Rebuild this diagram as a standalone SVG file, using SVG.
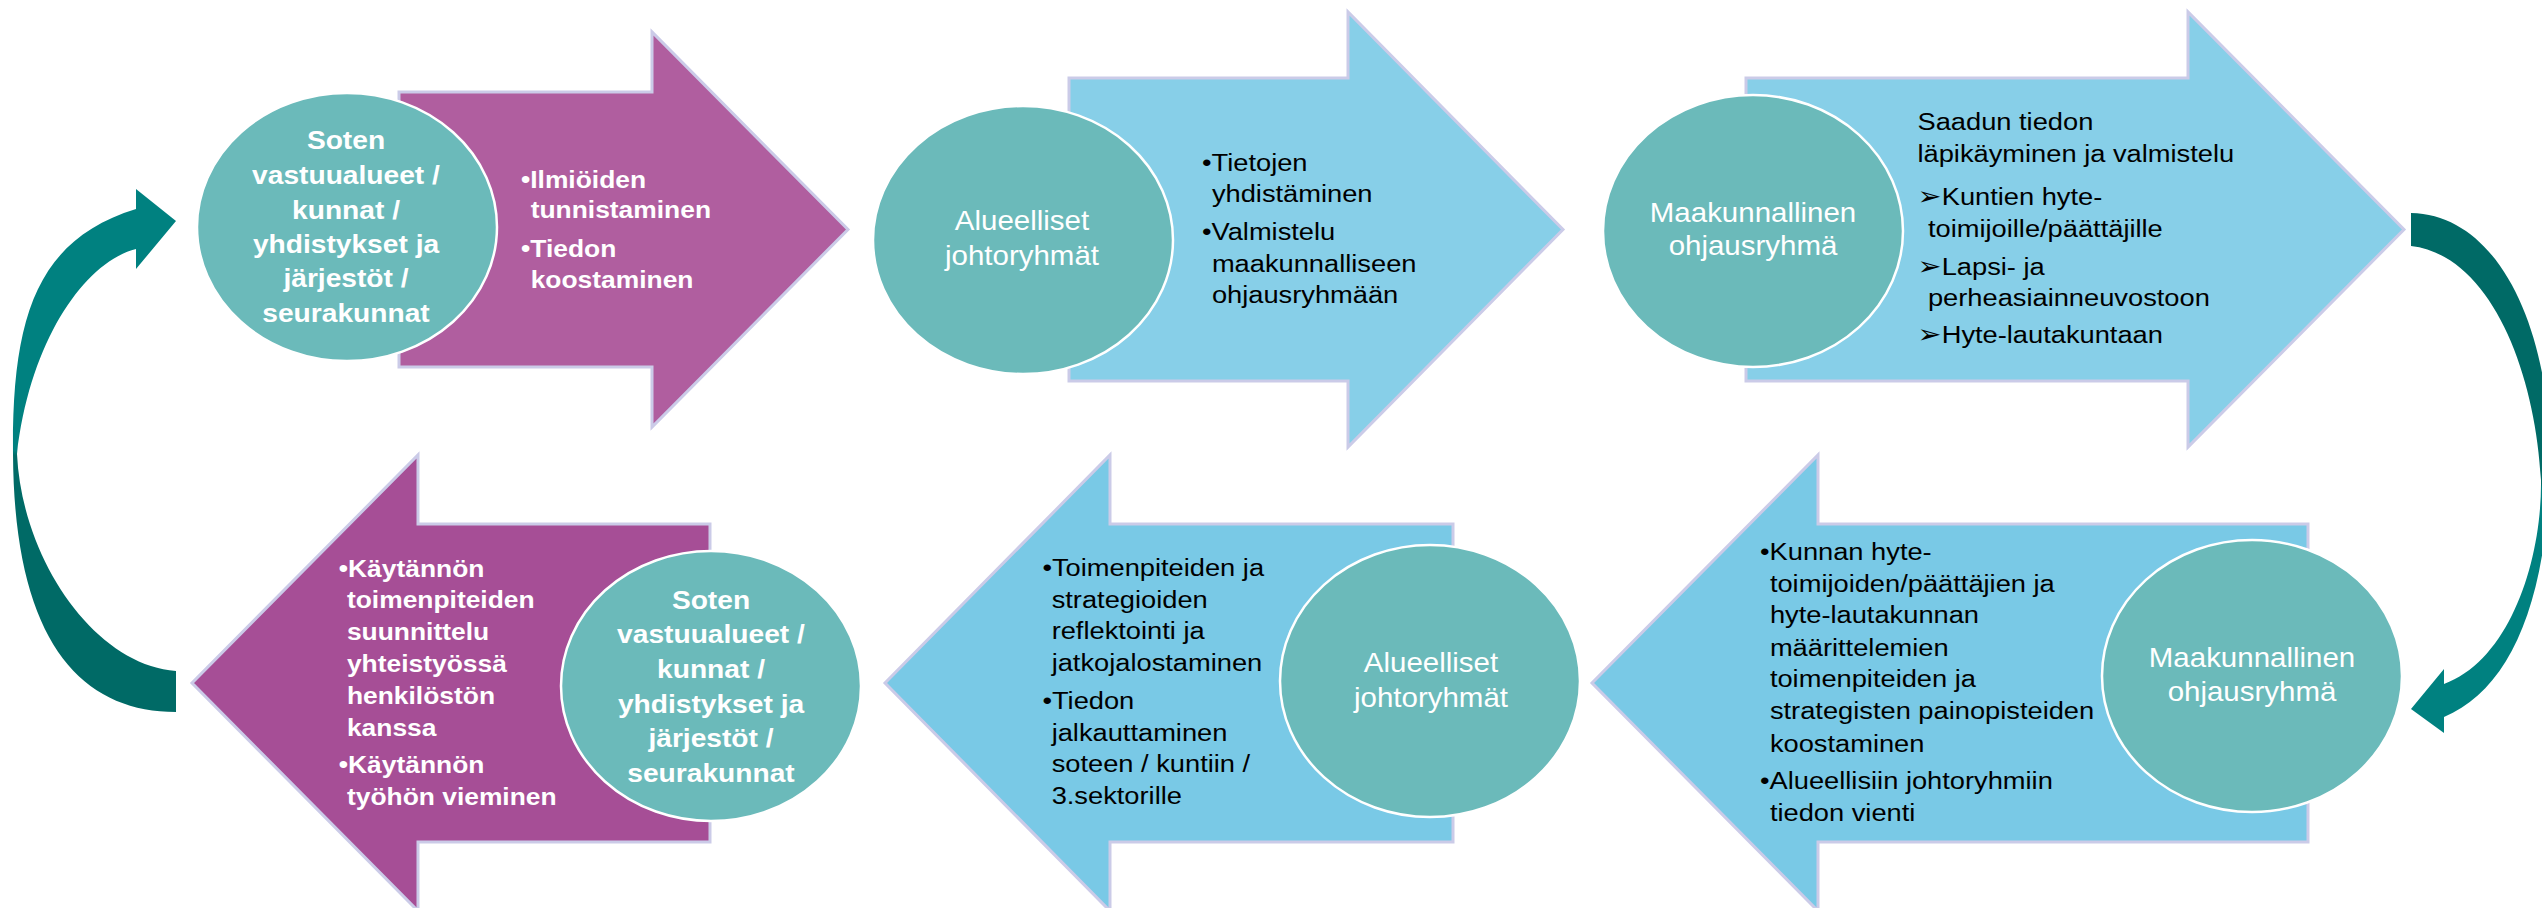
<svg xmlns="http://www.w3.org/2000/svg" width="2542" height="908" viewBox="0 0 2542 908">
<defs>
<style>
.arrP1{fill:#B05E9F;stroke:#CBCBE8;stroke-width:3}
.arrP2{fill:#A64E96;stroke:#CBCBE8;stroke-width:3}
.arrB1{fill:#87CFE8;stroke:#CBCBE8;stroke-width:3}
.arrB2{fill:#79C9E6;stroke:#CBCBE8;stroke-width:3}
.ell{fill:#6BBABA;stroke:#FFFFFF;stroke-width:2.5}
text{font-family:"Liberation Sans",Arial,sans-serif}
.eb{font-size:25.6px;font-weight:bold;fill:#FFFFFF;text-anchor:middle}
.er{font-size:26.8px;fill:#FFFFFF;text-anchor:middle}
.ab{font-size:24px;font-weight:bold;fill:#FFFFFF}
.ar{font-size:24.8px;fill:#000000}
.dg{font-family:"DejaVu Sans",sans-serif;font-size:26px;fill:#000000}
</style>
<linearGradient id="gL" gradientUnits="userSpaceOnUse" x1="0" y1="189" x2="0" y2="712">
<stop offset="0" stop-color="#008180"/><stop offset="0.5" stop-color="#008180"/><stop offset="0.51" stop-color="#006A66"/><stop offset="1" stop-color="#006A66"/>
</linearGradient>
<linearGradient id="gR" gradientUnits="userSpaceOnUse" x1="0" y1="213" x2="0" y2="733">
<stop offset="0" stop-color="#006A66"/><stop offset="0.52" stop-color="#006A66"/><stop offset="0.53" stop-color="#008180"/><stop offset="1" stop-color="#008180"/>
</linearGradient>
</defs>

<g id="connectors">
<path id="curve-left" fill="url(#gL)" d="M136,209 L136,189 L176,221 L136,269 L136,249 C85,262 30,340 17,454 C22,560 95,665 176,671 L176,712 C80,712 14,640 13,454 C12,320 35,240 136,209 Z"/>
<path id="curve-right" fill="url(#gR)" d="M2411,213 C2500,215 2548,330 2550,450 C2550,600 2510,690 2444,717 L2444,733 L2411,709 L2444,669 L2444,684 C2510,660 2542,560 2541,480 C2535,370 2490,255 2411,246 Z"/>
</g>

<g id="arrow1">
<path class="arrP1" d="M399,92 H652 V32 L848,229.5 L652,427 V367 H399 Z"/>
<g transform="matrix(1.1 0 0 1 521 0)">
<text class="ab" x="0" y="187.7">•Ilmiöiden</text>
<text class="ab" x="8.8" y="218.3">tunnistaminen</text>
<text class="ab" x="0" y="256.7">•Tiedon</text>
<text class="ab" x="8.8" y="288.3">koostaminen</text>
</g>
</g>

<g id="arrow2">
<path class="arrB1" d="M1069,78 H1348 V12 L1563,229.5 L1348,447 V381 H1069 Z"/>
<g transform="matrix(1.1 0 0 1 1202 0)">
<text class="ar" x="0" y="170.7">•Tietojen</text>
<text class="ar" x="9" y="201.7">yhdistäminen</text>
<text class="ar" x="0" y="240">•Valmistelu</text>
<text class="ar" x="9" y="271.7">maakunnalliseen</text>
<text class="ar" x="9" y="303.3">ohjausryhmään</text>
</g>
</g>

<g id="arrow3">
<path class="arrB1" d="M1746,78 H2188 V12 L2404,229.5 L2188,447 V381 H1746 Z"/>
<g transform="matrix(1.1 0 0 1 1917.5 0)">
<text class="ar" x="0" y="130">Saadun tiedon</text>
<text class="ar" x="0" y="162.3">läpikäyminen ja valmistelu</text>
<text class="dg" x="0" y="205">➢</text>
<text class="ar" x="22" y="205">Kuntien hyte-</text>
<text class="ar" x="9.5" y="237.3">toimijoille/päättäjille</text>
<text class="dg" x="0" y="275">➢</text>
<text class="ar" x="22" y="275">Lapsi- ja</text>
<text class="ar" x="9.5" y="306">perheasiainneuvostoon</text>
<text class="dg" x="0" y="343.3">➢</text>
<text class="ar" x="22" y="343.3">Hyte-lautakuntaan</text>
</g>
</g>

<g id="arrow4">
<path class="arrB2" d="M2308,524 H1818 V455 L1592,683 L1818,911 V842 H2308 Z"/>
<g transform="matrix(1.1 0 0 1 1760 0)">
<text class="ar" x="0" y="560">•Kunnan hyte-</text>
<text class="ar" x="9" y="591.7">toimijoiden/päättäjien ja</text>
<text class="ar" x="9" y="623.3">hyte-lautakunnan</text>
<text class="ar" x="9" y="655.7">määrittelemien</text>
<text class="ar" x="9" y="687.3">toimenpiteiden ja</text>
<text class="ar" x="9" y="719">strategisten painopisteiden</text>
<text class="ar" x="9" y="751.7">koostaminen</text>
<text class="ar" x="0" y="789">•Alueellisiin johtoryhmiin</text>
<text class="ar" x="9" y="820.7">tiedon vienti</text>
</g>
</g>

<g id="arrow5">
<path class="arrB2" d="M1453,524 H1110 V455 L885,683 L1110,911 V842 H1453 Z"/>
<g transform="matrix(1.1 0 0 1 1042.4 0)">
<text class="ar" x="0" y="575.7">•Toimenpiteiden ja</text>
<text class="ar" x="8.4" y="608">strategioiden</text>
<text class="ar" x="8.4" y="639">reflektointi ja</text>
<text class="ar" x="8.4" y="671.3">jatkojalostaminen</text>
<text class="ar" x="0" y="709">•Tiedon</text>
<text class="ar" x="8.4" y="740.7">jalkauttaminen</text>
<text class="ar" x="8.4" y="772.3">soteen / kuntiin /</text>
<text class="ar" x="8.4" y="804">3.sektorille</text>
</g>
</g>

<g id="arrow6">
<path class="arrP2" d="M710,524 H418 V455 L192,683 L418,911 V842 H710 Z"/>
<g transform="matrix(1.1 0 0 1 338.8 0)">
<text class="ab" x="0" y="576.7">•Käytännön</text>
<text class="ab" x="7.4" y="608.3">toimenpiteiden</text>
<text class="ab" x="7.4" y="640">suunnittelu</text>
<text class="ab" x="7.4" y="672.3">yhteistyössä</text>
<text class="ab" x="7.4" y="704">henkilöstön</text>
<text class="ab" x="7.4" y="735.7">kanssa</text>
<text class="ab" x="0" y="773.3">•Käytännön</text>
<text class="ab" x="7.4" y="805">työhön vieminen</text>
</g>
</g>

<g id="ellipse1">
<ellipse class="ell" cx="347" cy="227" rx="150" ry="134"/>
<g transform="matrix(1.1 0 0 1 346 0)">
<text class="eb" x="0" y="149">Soten</text>
<text class="eb" x="0" y="184">vastuualueet /</text>
<text class="eb" x="0" y="219">kunnat /</text>
<text class="eb" x="0" y="253">yhdistykset ja</text>
<text class="eb" x="0" y="287">järjestöt /</text>
<text class="eb" x="0" y="322">seurakunnat</text>
</g>
</g>

<g id="ellipse2">
<ellipse class="ell" cx="1023" cy="240" rx="150" ry="134"/>
<g transform="matrix(1.1 0 0 1 1022 0)">
<text class="er" x="0" y="230">Alueelliset</text>
<text class="er" x="0" y="265">johtoryhmät</text>
</g>
</g>

<g id="ellipse3">
<ellipse class="ell" cx="1753" cy="231" rx="150" ry="136"/>
<g transform="matrix(1.1 0 0 1 1753 0)">
<text class="er" x="0" y="221.7">Maakunnallinen</text>
<text class="er" x="0" y="255">ohjausryhmä</text>
</g>
</g>

<g id="ellipse4">
<ellipse class="ell" cx="2252" cy="676" rx="150" ry="136"/>
<g transform="matrix(1.1 0 0 1 2252 0)">
<text class="er" x="0" y="667.5">Maakunnallinen</text>
<text class="er" x="0" y="701">ohjausryhmä</text>
</g>
</g>

<g id="ellipse5">
<ellipse class="ell" cx="1430" cy="681" rx="150" ry="136"/>
<g transform="matrix(1.1 0 0 1 1431 0)">
<text class="er" x="0" y="672.3">Alueelliset</text>
<text class="er" x="0" y="707.3">johtoryhmät</text>
</g>
</g>

<g id="ellipse6">
<ellipse class="ell" cx="711" cy="686" rx="150" ry="135"/>
<g transform="matrix(1.1 0 0 1 711 0)">
<text class="eb" x="0" y="609">Soten</text>
<text class="eb" x="0" y="643.3">vastuualueet /</text>
<text class="eb" x="0" y="678">kunnat /</text>
<text class="eb" x="0" y="712.7">yhdistykset ja</text>
<text class="eb" x="0" y="747.3">järjestöt /</text>
<text class="eb" x="0" y="782.3">seurakunnat</text>
</g>
</g>
</svg>
